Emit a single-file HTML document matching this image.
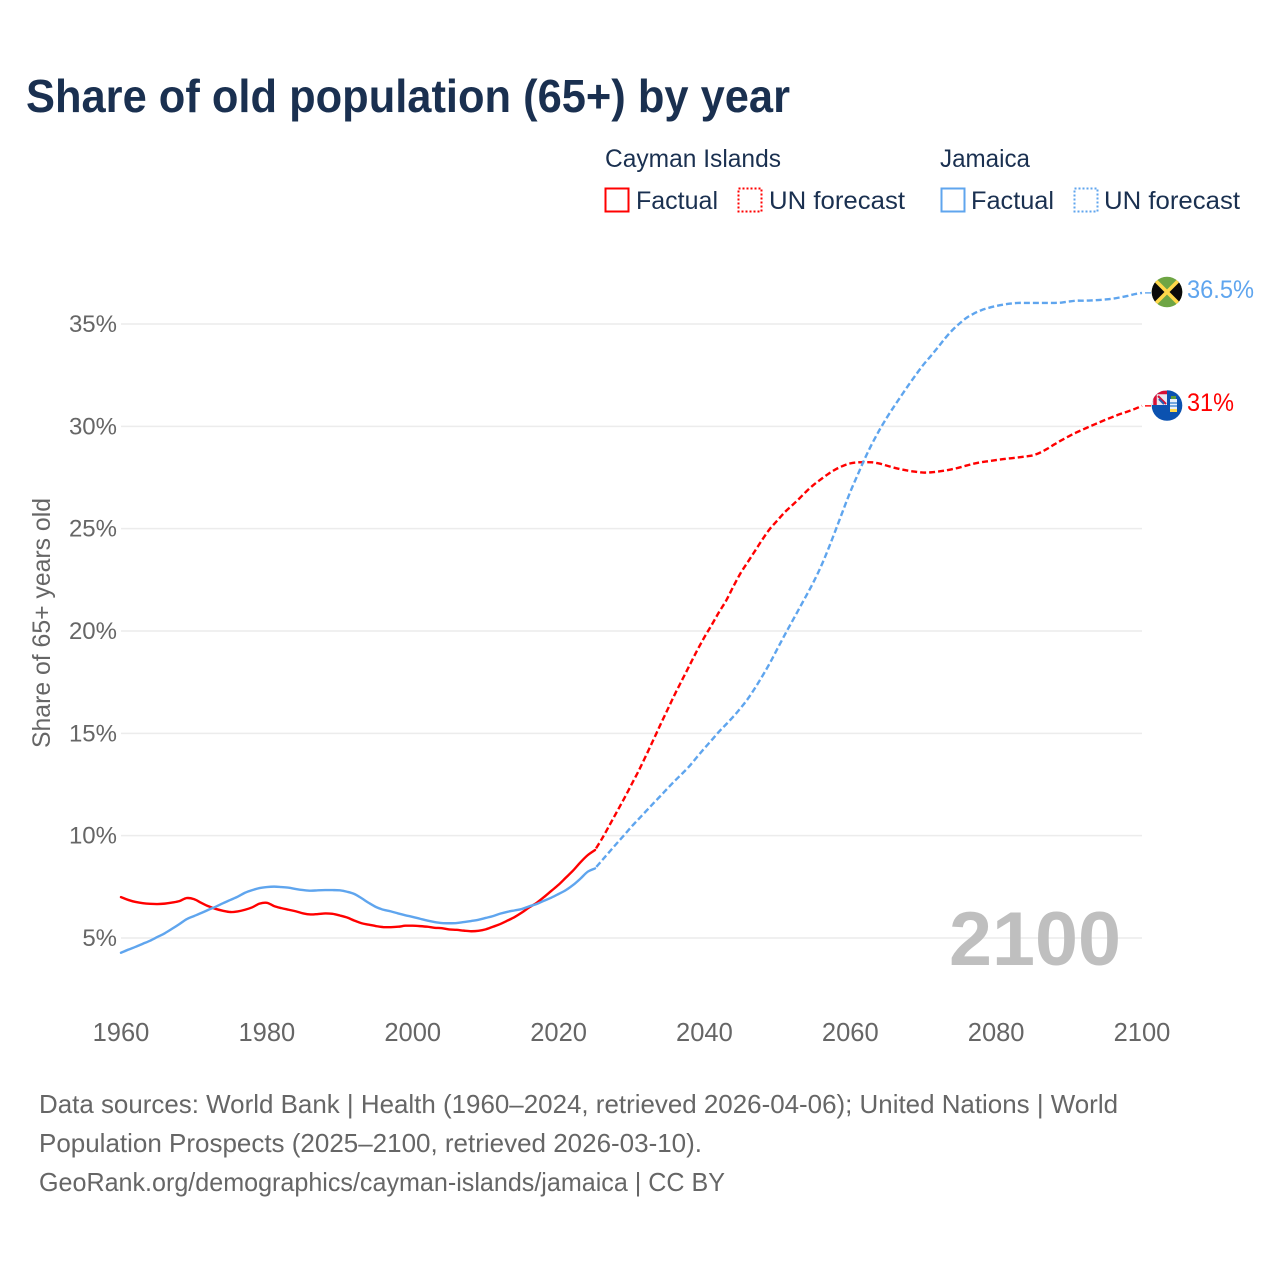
<!DOCTYPE html>
<html lang="en">
<head>
<meta charset="utf-8">
<title>Share of old population (65+) by year</title>
<style>
html,body{margin:0;padding:0;background:#fff;}
body{width:1280px;height:1280px;overflow:hidden;}
svg{display:block;font-family:"Liberation Sans",Arial,sans-serif;}
.legend{font-size:25px;fill:#1a3050;}
.tick{fill:#666;}
.foot{font-size:26px;fill:#666;}
</style>
</head>
<body>
<svg id="chart" xmlns="http://www.w3.org/2000/svg" width="1280" height="1280" viewBox="0 0 1280 1280">
  <rect x="0" y="0" width="1280" height="1280" fill="#fff"/>
  <text x="26" y="112" font-size="46" font-weight="700" fill="#1a3050" textLength="764" lengthAdjust="spacingAndGlyphs">Share of old population (65+) by year</text>

  <g>
    <text class="legend" x="605" y="167" textLength="176" lengthAdjust="spacingAndGlyphs">Cayman Islands</text>
    <text class="legend" x="940" y="167" textLength="90" lengthAdjust="spacingAndGlyphs">Jamaica</text>
    <rect x="605.5" y="188.5" width="23" height="23" fill="none" stroke="#ff0000" stroke-width="2"/>
    <text class="legend" x="636" y="209" textLength="82" lengthAdjust="spacingAndGlyphs">Factual</text>
    <rect x="738.5" y="188.5" width="23" height="23" fill="none" stroke="#ff0000" stroke-width="2" stroke-dasharray="2 2"/>
    <text class="legend" x="769" y="209" textLength="136" lengthAdjust="spacingAndGlyphs">UN forecast</text>
    <rect x="941.5" y="188.5" width="23" height="23" fill="none" stroke="#5fa5ee" stroke-width="2"/>
    <text class="legend" x="971" y="209" textLength="83" lengthAdjust="spacingAndGlyphs">Factual</text>
    <rect x="1074.5" y="188.5" width="23" height="23" fill="none" stroke="#5fa5ee" stroke-width="2" stroke-dasharray="2 2"/>
    <text class="legend" x="1104" y="209" textLength="136" lengthAdjust="spacingAndGlyphs">UN forecast</text>
  </g>

  <text transform="translate(50,623) rotate(-90)" text-anchor="middle" font-size="25" fill="#666" textLength="250" lengthAdjust="spacingAndGlyphs">Share of 65+ years old</text>

  <g id="grid"></g>
  <g id="yticks"></g>
  <g id="xticks"></g>

  <text x="949" y="965" font-size="76" font-weight="700" fill="#bfbfbf" textLength="172" lengthAdjust="spacingAndGlyphs">2100</text>

  <g id="series"></g>

  <defs>
    <clipPath id="flag-clip-jm"><circle cx="1167" cy="292" r="15.3"/></clipPath>
    <clipPath id="flag-clip-ky"><circle cx="1167" cy="405.5" r="15.3"/></clipPath>
  </defs>

  <g id="flag-jamaica" clip-path="url(#flag-clip-jm)">
    <rect x="1151" y="276" width="32" height="32" fill="#6ea544"/>
    <polygon points="1151,276 1167,292 1151,308" fill="#0a0a0a"/>
    <polygon points="1183,276 1167,292 1183,308" fill="#0a0a0a"/>
    <line x1="1155" y1="280" x2="1179" y2="304" stroke="#ffd84a" stroke-width="3.6"/>
    <line x1="1179" y1="280" x2="1155" y2="304" stroke="#ffd84a" stroke-width="3.6"/>
  </g>

  <g id="flag-cayman" clip-path="url(#flag-clip-ky)">
    <rect x="1151" y="390" width="32" height="32" fill="#0b52b0"/>
    <rect x="1151" y="390" width="16" height="15" fill="#e8e8f0"/>
    <path d="M1155 405 V392.5 H1167" fill="none" stroke="#d80f35" stroke-width="3.5"/>
    <line x1="1158" y1="396" x2="1166" y2="404" stroke="#d80f35" stroke-width="2"/>
    <line x1="1159" y1="399" x2="1164" y2="404" stroke="#2a5cb0" stroke-width="2"/>
    <rect x="1170" y="399" width="7" height="10" fill="#e8f0fa"/>
    <rect x="1171" y="396" width="5" height="3" fill="#5d9a3c"/>
    <rect x="1170" y="409" width="7" height="3" fill="#ffd84a"/>
    <line x1="1170" y1="403" x2="1177" y2="403" stroke="#2a7cd0" stroke-width="1.2"/>
    <line x1="1170" y1="406" x2="1177" y2="406" stroke="#2a7cd0" stroke-width="1.2"/>
  </g>

  <text id="label-jm" x="1187" y="298" font-size="25" fill="#5fa5ee" textLength="67" lengthAdjust="spacingAndGlyphs">36.5%</text>
  <text id="label-ky" x="1187" y="411" font-size="25" fill="#ff0000" textLength="47" lengthAdjust="spacingAndGlyphs">31%</text>

  <g>
    <text class="foot" x="39" y="1113" textLength="1079" lengthAdjust="spacingAndGlyphs">Data sources: World Bank | Health (1960–2024, retrieved 2026-04-06); United Nations | World</text>
    <text class="foot" x="39" y="1152" textLength="663" lengthAdjust="spacingAndGlyphs">Population Prospects (2025–2100, retrieved 2026-03-10).</text>
    <text class="foot" x="39" y="1191" textLength="686" lengthAdjust="spacingAndGlyphs">GeoRank.org/demographics/cayman-islands/jamaica | CC BY</text>
  </g>
</svg>
<script>
var yTickValues = [5, 10, 15, 20, 25, 30, 35];
var xTickYears = [1960, 1980, 2000, 2020, 2040, 2060, 2080, 2100];
var factualStartYear = 1960;
var forecastStartYear = 2025;

var caymanFactual = [
  7.0,6.86,6.76,6.7,6.67,6.66,6.68,6.73,6.8,6.95,
  6.9,6.72,6.55,6.42,6.33,6.27,6.3,6.38,6.5,6.68,
  6.72,6.56,6.46,6.38,6.3,6.2,6.15,6.17,6.2,6.18,
  6.1,6.0,5.85,5.72,5.65,5.58,5.53,5.53,5.55,5.6,
  5.6,5.58,5.55,5.5,5.48,5.42,5.4,5.36,5.33,5.35,
  5.42,5.55,5.68,5.85,6.03,6.25,6.5,6.72,7.0,7.3,
  7.6,7.95,8.3,8.7,9.05,9.3
];
var jamaicaFactual = [
  4.28,4.43,4.57,4.72,4.87,5.05,5.23,5.45,5.68,5.92,
  6.07,6.22,6.38,6.53,6.7,6.86,7.02,7.21,7.34,7.44,
  7.49,7.51,7.49,7.46,7.39,7.34,7.31,7.33,7.34,7.34,
  7.33,7.26,7.15,6.94,6.71,6.51,6.38,6.3,6.2,6.11,
  6.03,5.94,5.85,5.78,5.73,5.72,5.73,5.78,5.83,5.89,
  5.98,6.07,6.19,6.28,6.35,6.42,6.55,6.66,6.82,6.97,
  7.15,7.34,7.59,7.9,8.24,8.4
];
var caymanForecast = [
  9.3,9.88,10.52,11.17,11.82,
  12.5,13.18,13.92,14.68,15.45,16.2,16.95,17.65,18.35,19.05,
  19.7,20.3,20.92,21.5,22.2,22.85,23.4,23.95,24.5,25.0,
  25.4,25.8,26.13,26.47,26.83,27.15,27.42,27.68,27.9,28.07,
  28.19,28.24,28.25,28.24,28.18,28.08,27.98,27.9,27.83,27.78,
  27.74,27.75,27.79,27.84,27.91,27.99,28.09,28.18,28.25,28.3,
  28.35,28.4,28.44,28.48,28.53,28.58,28.71,28.9,29.12,29.33,
  29.52,29.7,29.86,30.02,30.17,30.32,30.46,30.6,30.72,30.85,
  31.0
];
var jamaicaForecast = [
  8.4,8.81,9.22,9.63,10.03,
  10.44,10.82,11.2,11.58,11.95,12.33,12.7,13.05,13.42,13.85,
  14.27,14.67,15.08,15.45,15.83,16.25,16.71,17.25,17.83,18.45,
  19.13,19.8,20.45,21.1,21.75,22.42,23.17,24.02,24.94,25.88,
  26.8,27.62,28.43,29.16,29.82,30.42,30.97,31.5,32.02,32.52,
  33.0,33.42,33.85,34.3,34.7,35.03,35.32,35.52,35.68,35.79,
  35.88,35.95,36.0,36.03,36.03,36.03,36.03,36.03,36.03,36.05,
  36.1,36.14,36.14,36.15,36.17,36.2,36.24,36.3,36.37,36.46,
  36.52
];

var SVGNS = 'http://www.w3.org/2000/svg';
var RED = '#ff0000';
var BLUE = '#5fa5ee';

function xScale(year) {
  return 121 + (year - 1960) * (1021 / 140);
}
function yScale(v) {
  return 938 - (v - 5) * (614 / 30);
}
function linePath(values, startYear) {
  var pts = values.map(function (v, i) {
    return [xScale(startYear + i), yScale(v)];
  });
  var d = 'M' + pts[0][0].toFixed(2) + ' ' + pts[0][1].toFixed(2);
  for (var i = 0; i < pts.length - 1; i++) {
    var p0 = pts[Math.max(0, i - 1)];
    var p1 = pts[i];
    var p2 = pts[i + 1];
    var p3 = pts[Math.min(pts.length - 1, i + 2)];
    var c1x = p1[0] + (p2[0] - p0[0]) / 6;
    var c1y = p1[1] + (p2[1] - p0[1]) / 6;
    var c2x = p2[0] - (p3[0] - p1[0]) / 6;
    var c2y = p2[1] - (p3[1] - p1[1]) / 6;
    d += 'C' + c1x.toFixed(2) + ' ' + c1y.toFixed(2) + ' ' + c2x.toFixed(2) + ' ' + c2y.toFixed(2) + ' ' + p2[0].toFixed(2) + ' ' + p2[1].toFixed(2);
  }
  return d;
}
function make(tag, attrs, parent) {
  var el = document.createElementNS(SVGNS, tag);
  for (var k in attrs) { el.setAttribute(k, attrs[k]); }
  parent.appendChild(el);
  return el;
}

var gridG = document.getElementById('grid');
var yG = document.getElementById('yticks');
var xG = document.getElementById('xticks');
var seriesG = document.getElementById('series');

yTickValues.forEach(function (v) {
  var line = make('line', {x1: 121, x2: 1142, y1: yScale(v), y2: yScale(v), stroke: '#ececec', 'stroke-width': 1.5}, gridG);
  
  
  var label = make('text', {x: 117, y: yScale(v) + 8, 'text-anchor': 'end', 'font-size': 24, 'class': 'tick'}, yG);
  
  
  label.textContent = v + '%';
});

xTickYears.forEach(function (yr) {
  var label = make('text', {x: xScale(yr), y: 1041, 'text-anchor': 'middle', 'font-size': 25.5, 'class': 'tick'}, xG);
  
  
  label.textContent = yr;
});

function addSeries(values, startYear, color, dashed, name) {
  var attrs = {d: linePath(values, startYear), fill: 'none', stroke: color, 'stroke-width': 2.4, 'stroke-linejoin': 'round'};
  if (dashed) {
    attrs['stroke-dasharray'] = '6 3';
    attrs['stroke-dashoffset'] = '-2';
  } else {
    attrs['stroke-linecap'] = 'round';
  }
  var p = make('path', attrs, seriesG);
  
  
  return p;
}

addSeries(caymanFactual, factualStartYear, RED, false, 'cayman-islands-factual-line');
addSeries(caymanForecast, forecastStartYear, RED, true, 'cayman-islands-forecast-line');
addSeries(jamaicaFactual, factualStartYear, BLUE, false, 'jamaica-factual-line');
addSeries(jamaicaForecast, forecastStartYear, BLUE, true, 'jamaica-forecast-line');

function addLeader(values, color, name) {
  var y = yScale(values[values.length - 1]);
  var l = make('line', {x1: 1145, x2: 1151, y1: y, y2: y, stroke: color, 'stroke-width': 1.4}, seriesG);
  
  
}
addLeader(caymanForecast, RED, 'cayman-islands-leader-line');
addLeader(jamaicaForecast, BLUE, 'jamaica-leader-line');
</script>
</body>
</html>
